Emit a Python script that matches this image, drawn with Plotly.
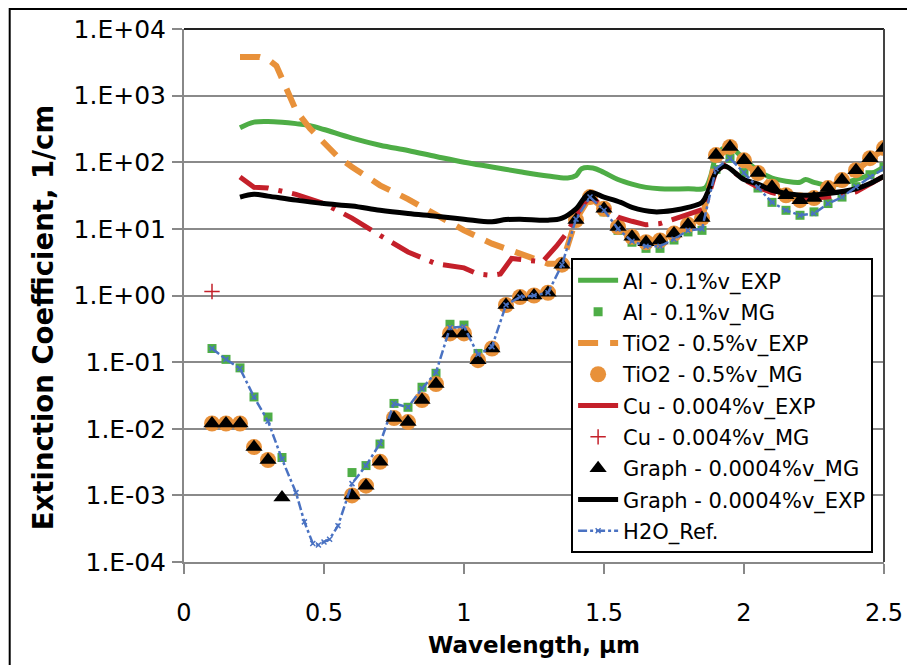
import plotly.graph_objects as go

# ---------------- data ----------------
mg_x = [0.1, 0.15, 0.2, 0.25, 0.3, 0.35, 0.4, 0.45, 0.5, 0.55, 0.6, 0.65, 0.7, 0.75, 0.8,
        0.85, 0.9, 0.95, 1.0, 1.05, 1.1, 1.15, 1.2, 1.25, 1.3, 1.35, 1.4, 1.45, 1.5, 1.55,
        1.6, 1.65, 1.7, 1.75, 1.8, 1.85, 1.9, 1.95, 2.0, 2.05, 2.1, 2.15, 2.2, 2.25, 2.3,
        2.35, 2.4, 2.45, 2.5]

graph_mg = [0.012, 0.012, 0.012, 0.0053, 0.0034, 0.00093, None, None, None, None,
            0.001, 0.0014, 0.0032, 0.0145, 0.0126, 0.027, 0.047, 0.27, 0.27, 0.107,
            0.16, 0.72, 0.95, 1.0, 1.1, 2.9, 13.6, 30, 20, 10.7,
            7.6, 6.3, 6.7, 8.5, 11.5, 14.5, 128, 170, 107, 69,
            43, 32, 27, 29, 41, 54, 76, 115, 163]

tio2_mg = [0.012, 0.012, 0.012, 0.0053, 0.0034, None, None, None, None, None,
           0.001, 0.0014, 0.0032, 0.0145, 0.0126, 0.027, 0.047, 0.27, 0.27, 0.107,
           0.16, 0.72, 0.95, 1.0, 1.1, 2.9, 13.6, 30, 20, 10.7,
           7.6, 6.3, 6.7, 8.5, 11.5, 14.5, 128, 170, 107, 69,
           43, 32, 27, 29, 41, 54, 76, 115, 163]

al_mg = [0.16, 0.11, 0.082, 0.030, 0.015, 0.0037, None, None, None, None,
         0.0022, 0.0028, 0.0059, 0.024, 0.021, 0.042, 0.068, 0.37, 0.36, 0.135,
         0.17, 0.72, 0.95, 1.0, 1.1, 2.9, 13, 29, 18, 9.5,
         6.3, 5.1, 5.1, 6.8, 9.0, 9.5, 78, 115, 70, 41,
         25, 19, 16, 18, 24, 30, 43, 65, 85]

cu_mg_x = [0.1]
cu_mg = [1.15]

al_exp_x = [0.2, 0.25, 0.3, 0.35, 0.4, 0.45, 0.5, 0.6, 0.7, 0.8, 0.9, 1.0, 1.1, 1.2, 1.3,
            1.37, 1.4, 1.42, 1.46, 1.5, 1.55, 1.6, 1.65, 1.7, 1.8, 1.86, 1.88, 1.9, 1.93,
            1.96, 2.0, 2.05, 2.1, 2.15, 2.2, 2.22, 2.25, 2.3, 2.35, 2.4, 2.45, 2.5]
al_exp = [330, 400, 410, 400, 380, 355, 310, 230, 180, 150, 122, 100, 85, 72, 62,
          58, 63, 80, 82, 70, 55, 47, 42, 40, 40, 41, 60, 120, 165,
          160, 110, 75, 58, 52, 50, 55, 50, 45, 48, 55, 65, 85]

graph_exp_x = [0.2, 0.25, 0.3, 0.4, 0.5, 0.6, 0.7, 0.8, 0.9, 1.0, 1.1, 1.15, 1.2, 1.3,
               1.35, 1.4, 1.45, 1.5, 1.56, 1.6, 1.68, 1.75, 1.8, 1.85, 1.87, 1.9, 1.93,
               2.0, 2.05, 2.1, 2.2, 2.3, 2.4, 2.45, 2.5]
graph_exp = [30, 33, 31, 27, 24, 22, 19, 17, 15.5, 14, 12.8, 13.8, 14, 13.5,
             14.5, 20, 35, 30, 25, 21, 18, 19, 21, 25, 35, 70, 88,
             55, 47, 38, 32, 34, 40, 48, 62]

tio2_exp_x = [0.2, 0.27, 0.3, 0.33, 0.35, 0.4, 0.45, 0.5, 0.55, 0.6, 0.65, 0.7, 0.8, 0.9,
              1.0, 1.1, 1.2, 1.3, 1.35, 1.4, 1.45, 1.5, 1.55, 1.6, 1.7, 1.8, 1.85, 1.9,
              1.95, 2.0, 2.1, 2.2, 2.3, 2.4, 2.5]
tio2_exp = [3800, 3800, 3500, 2800, 1800, 600, 320, 190, 120, 85, 60, 45, 28, 16,
            9.5, 6, 4.3, 3.0, 3.0, 14, 30, 20, 10.5, 7.4, 6.5, 11, 14, 120,
            160, 100, 42, 27, 40, 75, 160]

cu_exp_x = [0.2, 0.25, 0.3, 0.4, 0.5, 0.6, 0.7, 0.8, 0.9, 1.0, 1.05, 1.1, 1.13, 1.17,
            1.22, 1.28, 1.33, 1.37, 1.42, 1.45, 1.5, 1.55, 1.6, 1.65, 1.7, 1.8, 1.86,
            1.9, 1.93, 2.0, 2.05, 2.1, 2.2, 2.3, 2.4, 2.5]
cu_exp = [60, 42, 41, 33, 24, 14.5, 8, 4.5, 3.0, 2.6, 2.1, 2.0, 2.1, 3.6,
          3.4, 3.2, 5.5, 9, 22, 30, 22, 15, 13, 11.5, 12, 16.5, 20,
          75, 90, 55, 42, 35, 28, 30, 36, 62]

h2o_x = [0.1, 0.15, 0.2, 0.25, 0.3, 0.35, 0.4, 0.43, 0.46, 0.48, 0.5, 0.52, 0.55, 0.6,
         0.65, 0.7, 0.75, 0.8, 0.85, 0.9, 0.95, 1.0, 1.05, 1.1, 1.15, 1.2, 1.25, 1.3,
         1.35, 1.4, 1.45, 1.5, 1.55, 1.6, 1.65, 1.7, 1.75, 1.8, 1.85, 1.9, 1.95, 2.0,
         2.05, 2.1, 2.15, 2.2, 2.25, 2.3, 2.35, 2.4, 2.45, 2.5]
h2o = [0.16, 0.11, 0.08, 0.03, 0.013, 0.0035, 0.0011, 0.0004, 0.00019, 0.00018, 0.0002,
       0.00022, 0.00035, 0.0015, 0.0028, 0.006, 0.024, 0.021, 0.04, 0.07, 0.33, 0.34,
       0.13, 0.17, 0.72, 0.95, 1.0, 1.1, 2.9, 14, 30, 19, 10, 6.5, 5.5, 5.5, 7, 9.5,
       10, 80, 115, 70, 42, 25, 19, 16, 17, 24, 30, 43, 60, 80]

y_tickvals = [1e-4, 1e-3, 1e-2, 1e-1, 1, 10, 100, 1000, 10000]
y_ticktext = ["1.E-04", "1.E-03", "1.E-02", "1.E-01", "1.E+00", "1.E+01", "1.E+02", "1.E+03", "1.E+04"]
x_tickvals = [0, 0.5, 1, 1.5, 2, 2.5]
x_ticktext = ["0", "0.5", "1", "1.5", "2", "2.5"]

GREEN = "#4EAD46"
ORANGE = "#E8913A"
RED = "#C4202A"
BLUE = "#4A72C2"
BLACK = "#000000"
FONT = "DejaVu Sans"

fig = go.Figure()

fig.add_trace(go.Scatter(x=al_exp_x, y=al_exp, mode="lines", name="Al - 0.1%v_EXP",
                         line=dict(color=GREEN, width=5, shape="spline"), legendgroup="a"))
fig.add_trace(go.Scatter(x=mg_x, y=al_mg, mode="markers", name="Al - 0.1%v_MG",
                         marker=dict(symbol="square", color=GREEN, size=9), legendgroup="b"))
fig.add_trace(go.Scatter(x=tio2_exp_x, y=tio2_exp, mode="lines", name="TiO2 - 0.5%v_EXP",
                         line=dict(color=ORANGE, width=6, dash="20px,12px"), legendgroup="c"))
fig.add_trace(go.Scatter(x=mg_x, y=tio2_mg, mode="markers", name="TiO2 - 0.5%v_MG",
                         marker=dict(symbol="circle", color=ORANGE, size=16), legendgroup="d"))
fig.add_trace(go.Scatter(x=cu_exp_x, y=cu_exp, mode="lines", name="Cu - 0.004%v_EXP",
                         line=dict(color=RED, width=5, dash="32px,10px,4px,10px"),
                         legendgroup="e", showlegend=False))
fig.add_trace(go.Scatter(x=[None], y=[None], mode="lines", name="Cu - 0.004%v_EXP",
                         line=dict(color=RED, width=5), legendgroup="e"))
fig.add_trace(go.Scatter(x=cu_mg_x, y=cu_mg, mode="markers", name="Cu - 0.004%v_MG",
                         marker=dict(symbol="cross-thin", color=RED, size=11,
                                     line=dict(color=RED, width=1.5)), legendgroup="f"))
fig.add_trace(go.Scatter(x=mg_x, y=graph_mg, mode="markers", name="Graph - 0.0004%v_MG",
                         marker=dict(symbol="triangle-up", color=BLACK, size=15), legendgroup="g"))
fig.add_trace(go.Scatter(x=graph_exp_x, y=graph_exp, mode="lines", name="Graph - 0.0004%v_EXP",
                         line=dict(color=BLACK, width=5, shape="spline"), legendgroup="h"))
fig.add_trace(go.Scatter(x=h2o_x, y=h2o, mode="lines+markers", name="H2O_Ref.",
                         line=dict(color=BLUE, width=2.5, dash="dashdot"),
                         marker=dict(symbol="x-thin", size=5, color=BLUE,
                                     line=dict(color=BLUE, width=1.5)), legendgroup="i"))

fig.update_layout(
    width=907, height=665,
    margin=dict(l=184, r=23, t=29, b=103),
    paper_bgcolor="white", plot_bgcolor="white",
    font=dict(family=FONT, color="black"),
    showlegend=True,
    legend=dict(x=0.553, y=0.57, xanchor="left", yanchor="top",
                bgcolor="white", bordercolor="black", borderwidth=2,
                font=dict(family=FONT, size=21, color="black"),
                tracegroupgap=1, itemwidth=40),
    xaxis=dict(range=[0, 2.5], tickvals=x_tickvals, ticktext=x_ticktext, automargin=False,
               showgrid=False, zeroline=False, showline=True, linecolor="#888888", linewidth=2,
               ticks="outside", ticklen=10, tickcolor="#888888", tickwidth=2,
               tickfont=dict(family=FONT, size=24, color="black"), ticklabelstandoff=18),
    yaxis=dict(type="log", range=[-4, 4], tickvals=y_tickvals, ticktext=y_ticktext,
               automargin=False,
               showgrid=True, gridcolor="#8a8a8a", gridwidth=2, zeroline=False,
               showline=True, linecolor="#888888", linewidth=2,
               ticks="outside", ticklen=10, tickcolor="#888888", tickwidth=2,
               tickfont=dict(family=FONT, size=25, color="black"), ticklabelstandoff=1),
    annotations=[
        dict(text="<b>Wavelength, µm</b>", xref="paper", yref="paper", x=0.5, y=-0.155,
             xanchor="center", yanchor="middle", showarrow=False,
             font=dict(family=FONT, size=23, color="black")),
        dict(text="<b>Extinction Coefficient, 1/cm</b>", xref="paper", yref="paper",
             x=-0.201, y=0.458, xanchor="center", yanchor="middle", textangle=-90,
             showarrow=False, font=dict(family=FONT, size=27.5, color="black")),
    ],
    shapes=[
        dict(type="line", xref="paper", yref="paper", x0=0, x1=1, y0=1, y1=1,
             line=dict(color="#222222", width=2)),
        dict(type="line", xref="paper", yref="paper", x0=1, x1=1, y0=0, y1=1,
             line=dict(color="#444444", width=2)),
        dict(type="rect", xref="paper", yref="paper", x0=-0.249, x1=1.05, y0=-0.22, y1=1.0375,
             line=dict(color="black", width=2), fillcolor="rgba(0,0,0,0)", layer="below"),
    ],
)

# remove the browser's default 8px body margin so the figure fills the window exactly
fig.write_html("out.html",
               config={"displayModeBar": False},
               post_script="document.body.style.margin='0';document.body.style.overflow='hidden';")
